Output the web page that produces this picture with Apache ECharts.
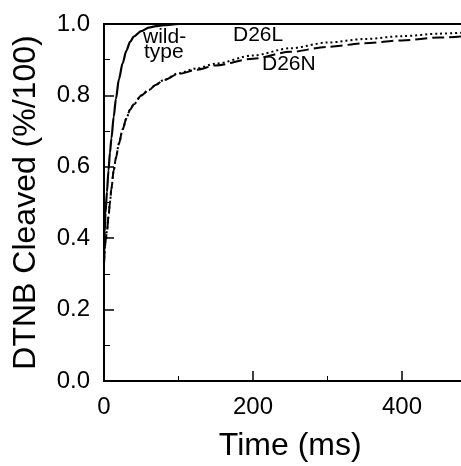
<!DOCTYPE html>
<html>
<head>
<meta charset="utf-8">
<script src="https://cdn.jsdelivr.net/npm/echarts@6/dist/echarts.min.js"></script>
<style>html,body{margin:0;padding:0;background:#fff;}#c{width:461px;height:466px;}</style>
</head>
<body>
<div id="c"></div>
<script>
// Time points (ms)
var timeMs = [0, 1, 2, 4, 6, 8, 10, 13, 16, 20, 25, 30, 35, 40, 50, 60, 70, 80, 100, 125, 150, 200, 250, 300, 350, 400, 450, 500];
// Fraction of DTNB cleaved
var wildType = [0.33, 0.42, 0.47, 0.53, 0.59, 0.64, 0.68, 0.74, 0.79, 0.845, 0.89, 0.925, 0.95, 0.965, 0.98, 0.99, 0.994, 0.997, 1.0, 1.0, 1.0, 1.0, 1.0, 1.0, 1.0, 1.0, 1.0, 1.0];
var d26L = [0.33, 0.37, 0.39, 0.42, 0.46, 0.50, 0.54, 0.59, 0.625, 0.665, 0.705, 0.735, 0.76, 0.775, 0.80, 0.815, 0.83, 0.843, 0.862, 0.876, 0.889, 0.912, 0.932, 0.948, 0.958, 0.966, 0.973, 0.979];
var d26N = [0.33, 0.37, 0.39, 0.42, 0.46, 0.50, 0.54, 0.59, 0.625, 0.665, 0.705, 0.735, 0.76, 0.775, 0.80, 0.815, 0.83, 0.843, 0.860, 0.872, 0.884, 0.903, 0.922, 0.936, 0.946, 0.954, 0.962, 0.969];
var yTicks = [0, 0.2, 0.4, 0.6, 0.8, 1.0];
var xTicks = [0, 200, 400];

function pairs(ys) { return timeMs.map(function (t, i) { return [t, ys[i]]; }); }

var FONT = 'Liberation Sans';
var chart = echarts.init(document.getElementById('c'), null, { renderer: 'canvas' });
chart.setOption({
  animation: false,
  backgroundColor: '#fff',
  grid: { left: 104, top: 24, bottom: 85, right: -15.5, show: true, borderColor: '#000', borderWidth: 2, containLabel: false, outerBoundsMode: 'none' },
  xAxis: {
    type: 'value', min: 0, max: 500, interval: 200,
    name: 'Time (ms)', nameLocation: 'middle', nameGap: 49,
    nameTextStyle: { fontFamily: FONT, fontSize: 32, color: '#000' },
    axisLine: { show: true, lineStyle: { color: '#000', width: 2 } },
    axisTick: { show: true, inside: true, length: 10, lineStyle: { color: '#000', width: 1.5 } },
    minorTick: { show: true, splitNumber: 2, length: 5, lineStyle: { color: '#000', width: 1 } },
    axisLabel: { fontFamily: FONT, fontSize: 24, color: '#000', margin: 14,
      formatter: function (v) { return xTicks.indexOf(v) >= 0 ? String(v) : ''; } },
    splitLine: { show: false }
  },
  yAxis: {
    type: 'value', min: 0, max: 1, interval: 0.2,
    name: 'DTNB Cleaved (%/100)', nameLocation: 'middle', nameGap: 62,
    nameTextStyle: { fontFamily: FONT, fontSize: 32, color: '#000' },
    axisLine: { show: true, lineStyle: { color: '#000', width: 2 } },
    axisTick: { show: true, inside: true, length: 10, lineStyle: { color: '#000', width: 1.5 } },
    minorTick: { show: true, splitNumber: 2, length: 6, lineStyle: { color: '#000', width: 1 } },
    axisLabel: { fontFamily: FONT, fontSize: 24, color: '#000', margin: 14,
      formatter: function (v) { return yTicks.some(function (t) { return Math.abs(t - v) < 1e-9; }) ? v.toFixed(1) : ''; } },
    splitLine: { show: false }
  },
  series: [
    { name: 'wild-type', type: 'line', data: pairs(wildType), showSymbol: false, smooth: 0.3, smoothMonotone: 'x',
      lineStyle: { color: '#000', width: 2.2, type: 'solid' } },
    { name: 'D26L', type: 'line', data: pairs(d26L), showSymbol: false, smooth: 0.3, smoothMonotone: 'x',
      lineStyle: { color: '#000', width: 2, type: [2, 3] } },
    { name: 'D26N', type: 'line', data: pairs(d26N), showSymbol: false, smooth: 0.3, smoothMonotone: 'x',
      lineStyle: { color: '#000', width: 2, type: [12, 5] } }
  ],
  graphic: [
    { type: 'text', left: 143, top: 27, style: { text: 'wild-', fontFamily: FONT, fontSize: 21, fill: '#000' } },
    { type: 'text', left: 144, top: 42, style: { text: 'type', fontFamily: FONT, fontSize: 21, fill: '#000' } },
    { type: 'text', left: 233, top: 25, style: { text: 'D26L', fontFamily: FONT, fontSize: 21, fill: '#000' } },
    { type: 'text', left: 262, top: 54, style: { text: 'D26N', fontFamily: FONT, fontSize: 21, fill: '#000' } }
  ]
});
</script>
</body>
</html>
